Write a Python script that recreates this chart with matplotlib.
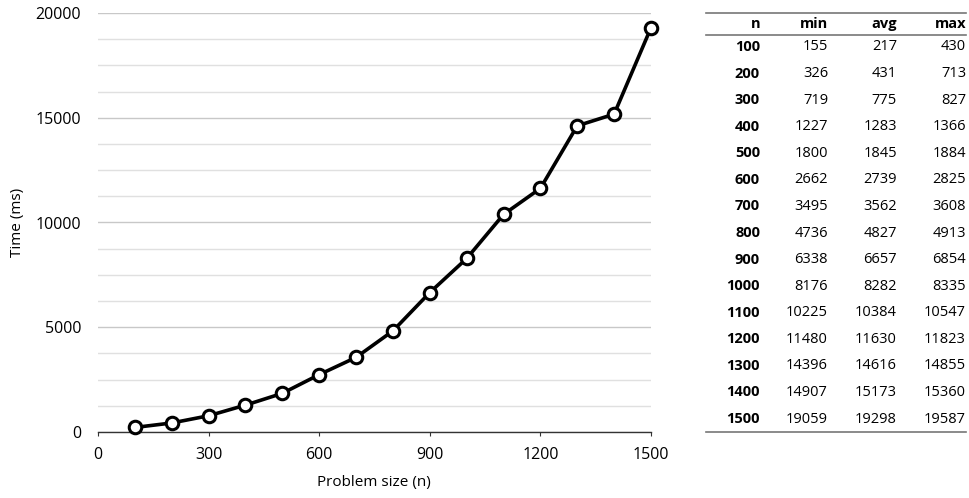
import matplotlib
matplotlib.use("Agg")
import matplotlib.pyplot as plt
from matplotlib.lines import Line2D

plt.rcParams['font.family'] = ['Open Sans', 'DejaVu Sans']

# data
sizes = [100, 200, 300, 400, 500, 600, 700, 800, 900, 1000, 1100, 1200, 1300, 1400, 1500]
t_min = [155, 326, 719, 1227, 1800, 2662, 3495, 4736, 6338, 8176, 10225, 11480, 14396, 14907, 19059]
t_avg = [217, 431, 775, 1283, 1845, 2739, 3562, 4827, 6657, 8282, 10384, 11630, 14616, 15173, 19298]
t_max = [430, 713, 827, 1366, 1884, 2825, 3608, 4913, 6854, 8335, 10547, 11823, 14855, 15360, 19587]
col_names = ["n", "min", "avg", "max"]

W, H = 969, 498
fig = plt.figure(figsize=(W / 100, H / 100), dpi=100)
ax_l, ax_r, ax_t, ax_b = 98, 651, 13, 432
ax = fig.add_axes([ax_l / W, 1 - ax_b / H, (ax_r - ax_l) / W, (ax_b - ax_t) / H])

ax.plot(sizes, t_avg, color='black', lw=2.6, marker='o', ms=9,
        mfc='white', mec='black', mew=2.2, zorder=3, clip_on=False)

ax.set_xlim(0, 1500)
ax.set_ylim(0, 20000)
ax.set_xticks([0, 300, 600, 900, 1200, 1500])
ax.set_yticks([0, 5000, 10000, 15000, 20000])
ax.set_yticks([y for y in range(0, 20001, 1250)], minor=True)
ax.grid(axis='y', which='major', color='#c8c8c8', lw=1.0)
ax.grid(axis='y', which='minor', color='#e0e0e0', lw=1.0)
ax.set_axisbelow(True)

for s in ['top', 'right', 'left']:
    ax.spines[s].set_visible(False)
ax.spines['bottom'].set_color('#333333')
ax.spines['bottom'].set_linewidth(1.0)
ax.tick_params(axis='y', which='both', length=0, labelsize=11.5, pad=12)
ax.tick_params(axis='x', length=3, color='#333333', labelsize=11.5, pad=8)
ax.tick_params(axis='x', which='minor', length=0)

ax.set_xlabel("Problem size (n)", fontsize=11)
ax.set_ylabel("Time (ms)", fontsize=11)
ax.xaxis.set_label_coords((374 - ax_l) / (ax_r - ax_l), -(482 - ax_b) / (ax_b - ax_t))
ax.yaxis.set_label_coords(-(ax_l - 17) / (ax_r - ax_l), 0.5)
ax.xaxis.label.set_va('center')
ax.yaxis.label.set_va('center')

# table on the right
col_right = [760, 828, 897, 966]
x0, x1 = 706, 966
y_head = 24
y_first = 47
row_h = (419 - 47) / 14

def fx(px):
    return px / W

def fy(py):
    return 1 - py / H

for px in [13, 35, 432]:
    fig.add_artist(Line2D([fx(x0), fx(x1)], [fy(px), fy(px)], color='#777777', lw=1.2))

for name, xr in zip(col_names, col_right):
    fig.text(fx(xr), fy(y_head), name, ha='right', va='center', fontsize=10.5, fontweight='bold')

for i in range(len(sizes)):
    yy = fy(y_first + i * row_h)
    vals = [sizes[i], t_min[i], t_avg[i], t_max[i]]
    for j, (v, xr) in enumerate(zip(vals, col_right)):
        fig.text(fx(xr), yy, str(v), ha='right', va='center', fontsize=10.5,
                 fontweight='bold' if j == 0 else 'normal')

fig.savefig('out.png', dpi=100)
